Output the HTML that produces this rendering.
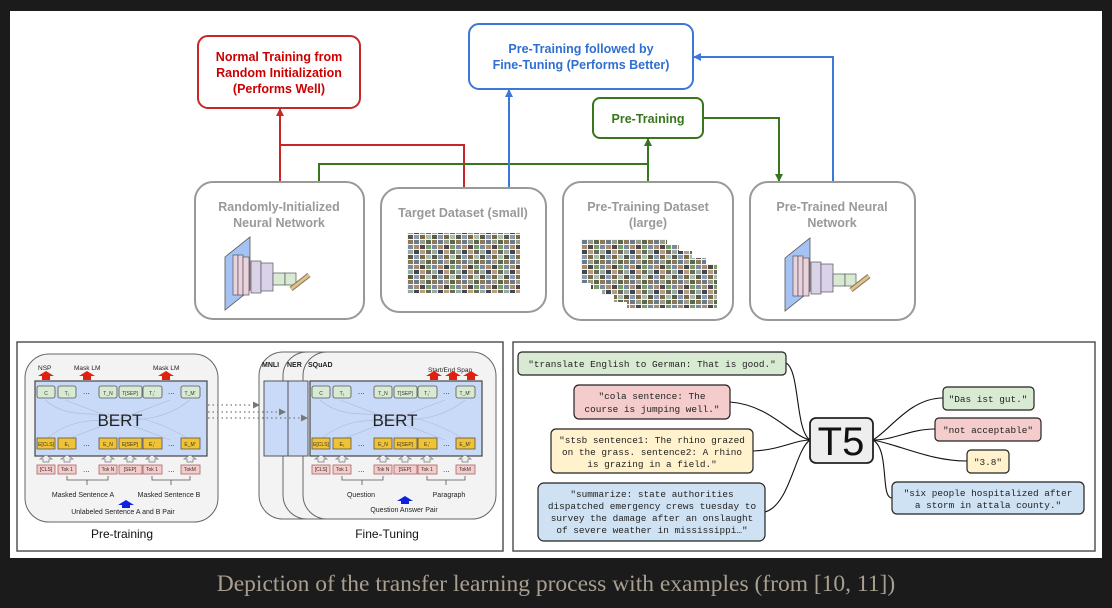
<!DOCTYPE html>
<html><head><meta charset="utf-8"><style>
html,body{margin:0;padding:0;background:#1b1b1b;width:1112px;height:608px;overflow:hidden}
svg{display:block}
</style></head><body>
<svg width="1112" height="608" viewBox="0 0 1112 608" xmlns="http://www.w3.org/2000/svg" font-family="Liberation Sans, sans-serif">
<defs>
<pattern id="img" width="24" height="20" patternUnits="userSpaceOnUse">
<rect width="24" height="20" fill="#f4f4f4"/>
<rect x="0" y="0" width="5" height="4" fill="#8a7a5a"/><rect x="6" y="0" width="5" height="4" fill="#6a7a8a"/><rect x="12" y="0" width="5" height="4" fill="#9a9a8a"/><rect x="18" y="0" width="5" height="4" fill="#5a6a4a"/>
<rect x="0" y="5" width="5" height="4" fill="#7a8a9a"/><rect x="6" y="5" width="5" height="4" fill="#aa8a6a"/><rect x="12" y="5" width="5" height="4" fill="#4a4a4a"/><rect x="18" y="5" width="5" height="4" fill="#7a9a6a"/>
<rect x="0" y="10" width="5" height="4" fill="#9aaa9a"/><rect x="6" y="10" width="5" height="4" fill="#3a4a5a"/><rect x="12" y="10" width="5" height="4" fill="#ba9a7a"/><rect x="18" y="10" width="5" height="4" fill="#6a6a5a"/>
<rect x="0" y="15" width="5" height="4" fill="#5a5a4a"/><rect x="6" y="15" width="5" height="4" fill="#8a9aaa"/><rect x="12" y="15" width="5" height="4" fill="#7a6a4a"/><rect x="18" y="15" width="5" height="4" fill="#aabaaa"/>
</pattern>
<g id="net">
<polygon points="0,20 25,0 25,53 0,73" fill="#a4c2f4" stroke="#555" stroke-width="0.8"/>
<rect x="8" y="18" width="5" height="40" fill="#ead1dc" stroke="#555" stroke-width="0.7"/>
<rect x="13" y="18" width="5" height="40" fill="#ead1dc" stroke="#555" stroke-width="0.7"/>
<rect x="18" y="20" width="6" height="38" fill="#ead1dc" stroke="#555" stroke-width="0.7"/>
<rect x="26" y="24" width="10" height="32" fill="#d9d2e9" stroke="#555" stroke-width="0.7"/>
<rect x="36" y="26" width="12" height="28" fill="#d9d2e9" stroke="#555" stroke-width="0.7"/>
<rect x="48" y="36" width="12" height="12" fill="#d9ead3" stroke="#555" stroke-width="0.7"/>
<rect x="60" y="36" width="11" height="12" fill="#d9ead3" stroke="#555" stroke-width="0.7"/>
<line x1="66" y1="52" x2="84" y2="38" stroke="#8a7a5a" stroke-width="5"/>
<line x1="66" y1="52" x2="84" y2="38" stroke="#e0c290" stroke-width="3"/>
</g>
<marker id="ar" markerWidth="8" markerHeight="8" refX="7" refY="4" orient="auto" markerUnits="userSpaceOnUse"><path d="M0,0 L8,4 L0,8z" fill="#c62828"/></marker>
<marker id="ab" markerWidth="8" markerHeight="8" refX="7" refY="4" orient="auto" markerUnits="userSpaceOnUse"><path d="M0,0 L8,4 L0,8z" fill="#3c78d8"/></marker>
<marker id="ag" markerWidth="8" markerHeight="8" refX="7" refY="4" orient="auto" markerUnits="userSpaceOnUse"><path d="M0,0 L8,4 L0,8z" fill="#38761d"/></marker>
<marker id="ad" markerWidth="7" markerHeight="7" refX="6" refY="3.5" orient="auto" markerUnits="userSpaceOnUse"><path d="M0,0 L7,3.5 L0,7z" fill="#777"/></marker>
</defs>

<rect x="10" y="11" width="1092" height="547" fill="#fff"/>

<polyline points="280,182 280,109" fill="none" stroke="#c62828" stroke-width="2" marker-end="url(#ar)"/>
<polyline points="280,145 464,145 464,188" fill="none" stroke="#c62828" stroke-width="2"/>
<polyline points="319,182 319,164 648,164" fill="none" stroke="#38761d" stroke-width="2"/>
<polyline points="648,182 648,139" fill="none" stroke="#38761d" stroke-width="2" marker-end="url(#ag)"/>
<polyline points="703,118 779,118 779,181" fill="none" stroke="#38761d" stroke-width="2" marker-end="url(#ag)"/>
<polyline points="509,188 509,90" fill="none" stroke="#3c78d8" stroke-width="2" marker-end="url(#ab)"/>
<polyline points="833,182 833,57 694,57" fill="none" stroke="#3c78d8" stroke-width="2" marker-end="url(#ab)"/>

<rect x="198" y="36" width="162" height="72" rx="10" fill="#fff" stroke="#c62828" stroke-width="2"/>
<g fill="#c00" font-weight="bold" font-size="12.5" text-anchor="middle">
<text x="279" y="61">Normal Training from</text><text x="279" y="77">Random Initialization</text><text x="279" y="93">(Performs Well)</text></g>
<rect x="469" y="24" width="224" height="65" rx="10" fill="#fff" stroke="#3c78d8" stroke-width="2"/>
<g fill="#2f6fd0" font-weight="bold" font-size="12.5" text-anchor="middle">
<text x="581" y="53">Pre-Training followed by</text><text x="581" y="69">Fine-Tuning (Performs Better)</text></g>
<rect x="593" y="98" width="110" height="40" rx="7" fill="#fff" stroke="#38761d" stroke-width="2"/>
<text x="648" y="123" fill="#38761d" font-weight="bold" font-size="12.5" text-anchor="middle">Pre-Training</text>

<g fill="#fff" stroke="#999" stroke-width="2">
<rect x="195" y="182" width="169" height="137" rx="18"/>
<rect x="381" y="188" width="165" height="124" rx="18"/>
<rect x="563" y="182" width="170" height="138" rx="18"/>
<rect x="750" y="182" width="165" height="138" rx="18"/>
</g>
<g fill="#999" font-weight="bold" font-size="12.5" text-anchor="middle">
<text x="279" y="211">Randomly-Initialized</text><text x="279" y="227">Neural Network</text>
<text x="463" y="217">Target Dataset (small)</text>
<text x="648" y="211">Pre-Training Dataset</text><text x="648" y="227">(large)</text>
<text x="832" y="211">Pre-Trained Neural</text><text x="832" y="227">Network</text>
</g>
<use href="#net" x="225" y="237"/>
<use href="#net" x="785" y="238"/>
<rect x="407" y="233" width="113" height="60" fill="url(#img)"/>
<g>
<rect x="581" y="239" width="86" height="44" fill="url(#img)"/>
<rect x="591" y="245" width="88" height="44" fill="url(#img)"/>
<rect x="602" y="251" width="90" height="44" fill="url(#img)"/>
<rect x="614" y="258" width="92" height="44" fill="url(#img)"/>
<rect x="627" y="264" width="90" height="44" fill="url(#img)"/>
</g>

<rect x="17" y="342" width="486" height="209" fill="#fff" stroke="#555" stroke-width="1.5"/>
<rect x="25" y="354" width="193" height="168" rx="24" fill="#f3f3f3" stroke="#666" stroke-width="1"/>
<rect x="259" y="352" width="190" height="167" rx="24" fill="#f3f3f3" stroke="#666"/>
<rect x="283" y="352" width="200" height="167" rx="24" fill="#f3f3f3" stroke="#666"/>
<rect x="303" y="352" width="193" height="167" rx="24" fill="#f3f3f3" stroke="#666"/>
<rect x="264" y="381" width="40" height="75" fill="#c9daf8" stroke="#555"/>
<rect x="288" y="381" width="20" height="75" fill="#c9daf8" stroke="#555"/>
<g font-size="7" font-weight="bold" fill="#222"><text x="262" y="367">MNLI</text><text x="287" y="367">NER</text><text x="308" y="367">SQuAD</text></g>

<g id="bert">
<rect x="35" y="381" width="172" height="75" fill="#c9daf8" stroke="#444" stroke-width="1.2"/>
<g fill="none" stroke="#aab8d8" stroke-width="0.6"><path d="M45,400 C80,430 120,395 190,440"/><path d="M45,440 C90,400 140,440 190,400"/><path d="M65,400 L170,440"/><path d="M65,440 L170,400"/></g>
<text x="120" y="426" font-size="17" text-anchor="middle" fill="#222">BERT</text>
<g fill="#d9ead3" stroke="#555" stroke-width="0.8">
<rect x="37" y="386" width="18" height="12" rx="2"/><rect x="58" y="386" width="18" height="12" rx="2"/><rect x="99" y="386" width="18" height="12" rx="2"/><rect x="119" y="386" width="23" height="12" rx="2"/><rect x="143" y="386" width="19" height="12" rx="2"/><rect x="181" y="386" width="19" height="12" rx="2"/></g>
<g fill="#f1c232" stroke="#555" stroke-width="0.8">
<rect x="37" y="438" width="18" height="11"/><rect x="58" y="438" width="18" height="11"/><rect x="99" y="438" width="18" height="11"/><rect x="119" y="438" width="23" height="11"/><rect x="143" y="438" width="19" height="11"/><rect x="181" y="438" width="19" height="11"/></g>
<g fill="#f4cccc" stroke="#a66" stroke-width="0.8">
<rect x="37" y="465" width="18" height="9"/><rect x="58" y="465" width="18" height="9"/><rect x="99" y="465" width="18" height="9"/><rect x="119" y="465" width="23" height="9"/><rect x="143" y="465" width="19" height="9"/><rect x="181" y="465" width="19" height="9"/></g>
<g font-size="5" fill="#333" text-anchor="middle">
<text x="46" y="395">C</text><text x="67" y="395">T₁</text><text x="108" y="395">T_N</text><text x="130" y="395">T[SEP]</text><text x="152" y="395">T₁'</text><text x="190" y="395">T_M'</text>
<text x="46" y="446">E[CLS]</text><text x="67" y="446">E₁</text><text x="108" y="446">E_N</text><text x="130" y="446">E[SEP]</text><text x="152" y="446">E₁'</text><text x="190" y="446">E_M'</text>
<text x="46" y="471">[CLS]</text><text x="67" y="471">Tok 1</text><text x="108" y="471">Tok N</text><text x="130" y="471">[SEP]</text><text x="152" y="471">Tok 1</text><text x="190" y="471">TokM</text></g>
<g font-size="8" fill="#333"><text x="83" y="394">...</text><text x="83" y="446">...</text><text x="83" y="472">...</text><text x="168" y="394">...</text><text x="168" y="446">...</text><text x="168" y="472">...</text></g>
<g fill="#eee" stroke="#777" stroke-width="0.7">
<path d="M43,462 v-3 h-3 l6,-4 l6,4 h-3 v3z"/><path d="M64,462 v-3 h-3 l6,-4 l6,4 h-3 v3z"/><path d="M105,462 v-3 h-3 l6,-4 l6,4 h-3 v3z"/><path d="M127,462 v-3 h-3 l6,-4 l6,4 h-3 v3z"/><path d="M149,462 v-3 h-3 l6,-4 l6,4 h-3 v3z"/><path d="M187,462 v-3 h-3 l6,-4 l6,4 h-3 v3z"/></g>
<g stroke="#555" stroke-width="0.8" fill="none"><path d="M67,476 v4 h41 v-4 M87,480 v5"/><path d="M152,476 v4 h38 v-4 M171,480 v5"/></g>
</g>
<use href="#bert" x="275" y="0"/>
<g font-size="6.5" fill="#222"><text x="38" y="370">NSP</text><text x="74" y="370">Mask LM</text><text x="153" y="370">Mask LM</text><text x="428" y="372">Start/End Span</text></g>
<g fill="#e02010"><path d="M42,380 v-4 h-4 l8,-5 l8,5 h-4 v4z"/><path d="M83,380 v-4 h-4 l8,-5 l8,5 h-4 v4z"/><path d="M162,380 v-4 h-4 l8,-5 l8,5 h-4 v4z"/>
<path d="M430,380 v-4 h-4 l8,-5 l8,5 h-4 v4z"/><path d="M449,380 v-4 h-4 l8,-5 l8,5 h-4 v4z"/><path d="M467,380 v-4 h-4 l8,-5 l8,5 h-4 v4z"/></g>
<g fill="#1020e0"><path d="M122,508 v-3 h-4 l8,-5 l8,5 h-4 v3z"/><path d="M401,504 v-3 h-4 l8,-5 l8,5 h-4 v3z"/></g>
<g font-size="7" fill="#222" text-anchor="middle"><text x="83" y="497">Masked Sentence A</text><text x="169" y="497">Masked Sentence B</text><text x="123" y="514">Unlabeled Sentence A and B Pair</text>
<text x="361" y="497">Question</text><text x="449" y="497">Paragraph</text><text x="404" y="512">Question Answer Pair</text></g>
<g stroke="#777" stroke-width="1.3" stroke-dasharray="1.5,3" fill="none">
<line x1="208" y1="405" x2="259" y2="405" marker-end="url(#ad)"/><line x1="208" y1="412" x2="285" y2="412" marker-end="url(#ad)"/><line x1="208" y1="418" x2="307" y2="418" marker-end="url(#ad)"/></g>
<g font-size="12" fill="#111" text-anchor="middle"><text x="122" y="538">Pre-training</text><text x="387" y="538">Fine-Tuning</text></g>

<rect x="513" y="342" width="582" height="209" fill="#fff" stroke="#555" stroke-width="1.5"/>
<g fill="none" stroke="#111" stroke-width="1.1">
<path d="M786,363 C800,370 795,430 810,440"/>
<path d="M730,402 C770,405 790,435 810,440"/>
<path d="M753,451 C780,450 795,440 810,440"/>
<path d="M765,512 C790,505 795,450 810,440"/>
<path d="M873,440 C890,430 910,398 943,398"/>
<path d="M873,440 C895,440 910,429 935,429"/>
<path d="M873,440 C900,445 930,461 967,461"/>
<path d="M873,440 C890,450 880,498 892,498"/>
</g>
<g stroke="#222" stroke-width="1.2">
<rect x="518" y="352" width="268" height="23" rx="4" fill="#d9ead3"/>
<rect x="574" y="385" width="156" height="34" rx="5" fill="#f4cccc"/>
<rect x="551" y="429" width="202" height="44" rx="5" fill="#fff2cc"/>
<rect x="538" y="483" width="227" height="58" rx="6" fill="#cfe2f3"/>
<rect x="810" y="418" width="63" height="45" rx="6" fill="#eeeeee" stroke-width="1.8"/>
<rect x="943" y="387" width="91" height="23" rx="4" fill="#d9ead3"/>
<rect x="935" y="418" width="106" height="23" rx="4" fill="#f4cccc"/>
<rect x="967" y="450" width="42" height="23" rx="4" fill="#fff2cc"/>
<rect x="892" y="482" width="192" height="32" rx="5" fill="#cfe2f3"/>
</g>
<text x="841" y="455" font-size="40" text-anchor="middle" fill="#111">T5</text>
<g font-family="Liberation Mono, monospace" font-size="9.4" fill="#222" text-anchor="middle">
<text x="652" y="367">"translate English to German: That is good."</text>
<text x="652" y="399">"cola sentence: The</text><text x="652" y="412">course is jumping well."</text>
<text x="652" y="443">"stsb sentence1: The rhino grazed</text><text x="652" y="455">on the grass. sentence2: A rhino</text><text x="652" y="467">is grazing in a field."</text>
<text x="652" y="497">"summarize: state authorities</text><text x="652" y="509">dispatched emergency crews tuesday to</text><text x="652" y="521">survey the damage after an onslaught</text><text x="652" y="533">of severe weather in mississippi…"</text>
<text x="988" y="402">"Das ist gut."</text>
<text x="988" y="433">"not acceptable"</text>
<text x="988" y="465">"3.8"</text>
<text x="988" y="496">"six people hospitalized after</text><text x="988" y="508">a storm in attala county."</text>
</g>

<text x="556" y="591" font-family="Liberation Serif, serif" font-size="23.5" fill="#a89f91" text-anchor="middle">Depiction of the transfer learning process with examples (from [10, 11])</text>
</svg>
</body></html>
